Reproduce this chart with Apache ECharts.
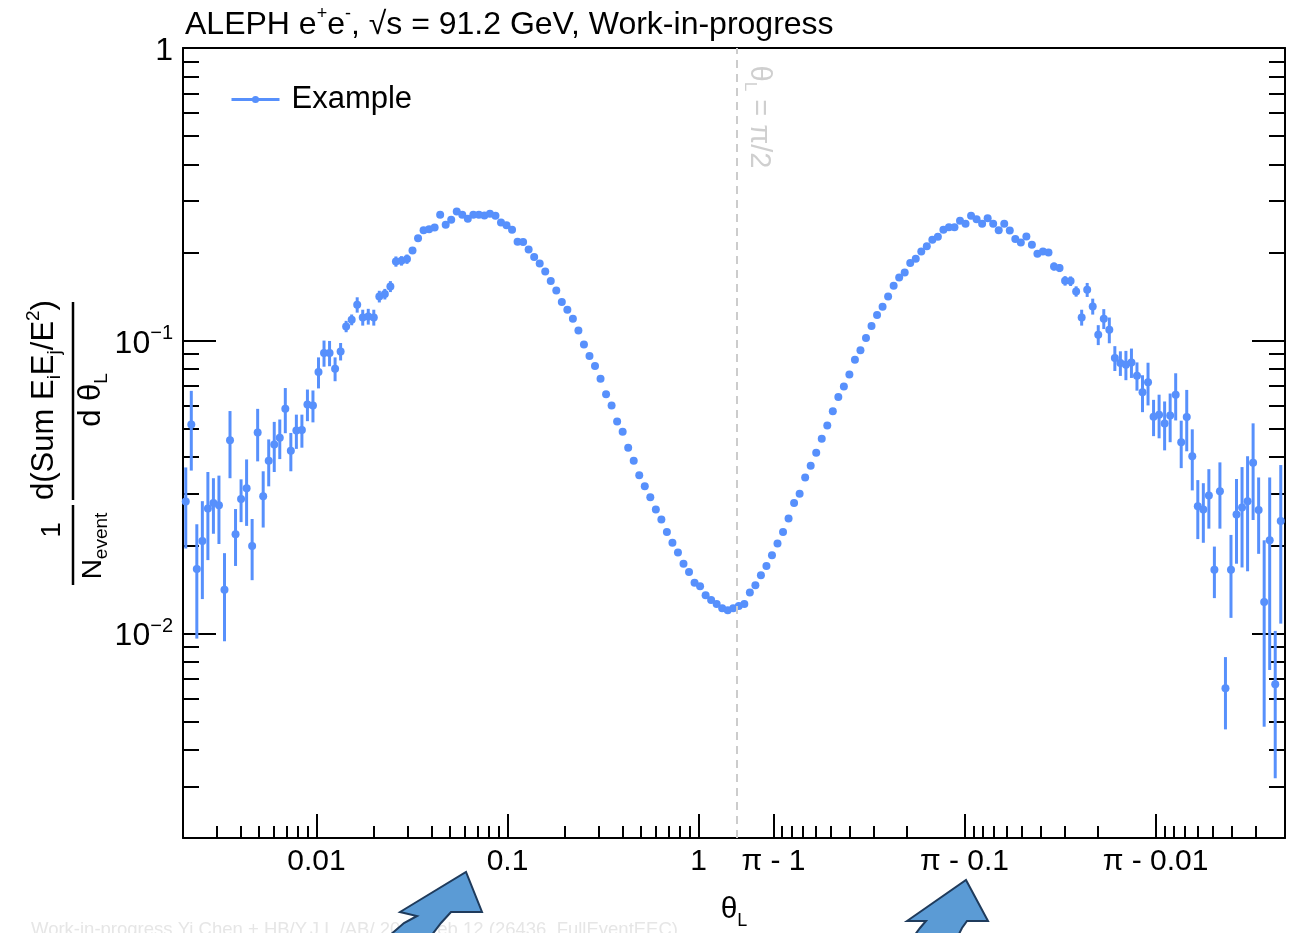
<!DOCTYPE html>
<html>
<head>
<meta charset="utf-8">
<script src="https://cdn.jsdelivr.net/npm/echarts@6/dist/echarts.min.js"></script>
<style>
html,body{margin:0;padding:0;background:#fff;}
#chart{width:1303px;height:933px;}
</style>
</head>
<body>
<div id="chart"></div>
<script>
// ---------------- data ----------------
const BIN_COUNT = 100;          // log bins per half (theta < pi/2 and theta > pi/2)
const THETA_MIN = 0.002;        // lower edge of the binning in theta and in (pi - theta)

// theta_L < pi/2, bins ordered from small theta towards pi/2
const leftValues = [
  0.0282, 0.0517, 0.0166, 0.0207, 0.0267, 0.0279, 0.0274, 0.0141, 0.0457, 0.0218,
  0.0288, 0.0313, 0.0199, 0.0486, 0.0294, 0.0389, 0.0442, 0.0466, 0.0586, 0.0421,
  0.0493, 0.0495, 0.0606, 0.0601, 0.0782, 0.0908, 0.0908, 0.0802, 0.0919, 0.1119,
  0.1179, 0.1327, 0.1201, 0.1210, 0.1201, 0.1416, 0.1443, 0.1532, 0.1865, 0.1875,
  0.1900, 0.2033, 0.2241, 0.2386, 0.2405, 0.2436, 0.2692, 0.2488, 0.2588, 0.2763,
  0.2692, 0.2608, 0.2692, 0.2692, 0.2677, 0.2713, 0.2671, 0.2533, 0.2482, 0.2392,
  0.2177, 0.2175, 0.2049, 0.1931, 0.1836, 0.1724, 0.1599, 0.1485, 0.1355, 0.1276,
  0.1189, 0.1084, 0.0971, 0.0887, 0.0820, 0.0742, 0.0656, 0.0601, 0.0530, 0.0489,
  0.0431, 0.0389, 0.0347, 0.0318, 0.0292, 0.0265, 0.0245, 0.0222, 0.0204, 0.0189,
  0.0173, 0.0162, 0.0149, 0.0145, 0.0135, 0.0130, 0.0126, 0.0122, 0.0120, 0.0122
];
const leftErrors = [
  0.0087, 0.0157, 0.0070, 0.0076, 0.0089, 0.0060, 0.0072, 0.0047, 0.0118, 0.0048,
  0.0048, 0.0080, 0.0047, 0.0099, 0.0064, 0.0071, 0.0086, 0.0072, 0.0103, 0.0063,
  0.0066, 0.0064, 0.0075, 0.0075, 0.0095, 0.0093, 0.0090, 0.0075, 0.0063, 0.0050,
  0.0050, 0.0080, 0.0075, 0.0075, 0.0075, 0.0065, 0.0060, 0.0066, 0.0075, 0.0070,
  0.0070, 0.0040, 0.0040, 0.0030, 0.0030, 0.0030, 0.0030, 0.0030, 0.0030, 0.0025,
  0.0025, 0.0025, 0.0025, 0.0020, 0.0020, 0.0020, 0.0020, 0.0020, 0.0020, 0.0020,
  0.0015, 0.0015, 0.0015, 0.0015, 0.0012, 0.0012, 0.0012, 0.0010, 0.0010, 0.0010,
  0.0008, 0.0008, 0.0008, 0.0006, 0.0006, 0.0006, 0.0005, 0.0005, 0.0004, 0.0004,
  0.0003, 0.0003, 0.0003, 0.0003, 0.0002, 0.0002, 0.0002, 0.0002, 0.0002, 0.0002,
  0.0001, 0.0001, 0.0001, 0.0001, 0.0001, 0.0001, 0.0001, 0.0001, 0.0001, 0.0001
];
// theta_L > pi/2, bins ordered from pi/2 towards pi
const rightValues = [
  0.0124, 0.0126, 0.0138, 0.0146, 0.0158, 0.0170, 0.0185, 0.0203, 0.0222, 0.0247,
  0.0279, 0.0300, 0.0341, 0.0374, 0.0414, 0.0462, 0.0513, 0.0574, 0.0642, 0.0698,
  0.0767, 0.0861, 0.0927, 0.1021, 0.1122, 0.1224, 0.1306, 0.1416, 0.1541, 0.1644,
  0.1710, 0.1841, 0.1905, 0.2017, 0.2104, 0.2212, 0.2264, 0.2392, 0.2443, 0.2443,
  0.2568, 0.2507, 0.2671, 0.2602, 0.2507, 0.2622, 0.2507, 0.2383, 0.2507, 0.2380,
  0.2224, 0.2165, 0.2270, 0.2127, 0.1981, 0.2017, 0.2001, 0.1793, 0.1771, 0.1602,
  0.1598, 0.1474, 0.1201, 0.1493, 0.1310, 0.1048, 0.1189, 0.1090, 0.0873, 0.0839,
  0.0828, 0.0843, 0.0759, 0.0666, 0.0721, 0.0550, 0.0559, 0.0521, 0.0555, 0.0654,
  0.0450, 0.0549, 0.0403, 0.0272, 0.0265, 0.0296, 0.0165, 0.0306, 0.0065, 0.0165,
  0.0255, 0.0269, 0.0283, 0.0383, 0.0264, 0.0128, 0.0208, 0.0067, 0.0242, null
];
const rightErrors = [
  0.0001, 0.0001, 0.0001, 0.0001, 0.0001, 0.0001, 0.0002, 0.0002, 0.0002, 0.0002,
  0.0003, 0.0003, 0.0003, 0.0004, 0.0004, 0.0005, 0.0005, 0.0006, 0.0006, 0.0007,
  0.0008, 0.0009, 0.0010, 0.0011, 0.0012, 0.0013, 0.0014, 0.0015, 0.0016, 0.0017,
  0.0018, 0.0019, 0.0020, 0.0021, 0.0022, 0.0023, 0.0024, 0.0025, 0.0026, 0.0027,
  0.0028, 0.0029, 0.0030, 0.0030, 0.0030, 0.0030, 0.0032, 0.0034, 0.0035, 0.0036,
  0.0040, 0.0040, 0.0042, 0.0044, 0.0046, 0.0048, 0.0050, 0.0057, 0.0055, 0.0060,
  0.0060, 0.0060, 0.0075, 0.0082, 0.0082, 0.0082, 0.0093, 0.0110, 0.0085, 0.0081,
  0.0095, 0.0097, 0.0084, 0.0096, 0.0120, 0.0078, 0.0095, 0.0099, 0.0105, 0.0120,
  0.0083, 0.0130, 0.0095, 0.0062, 0.0061, 0.0068, 0.0033, 0.0078, 0.0018, 0.0052,
  0.0082, 0.0101, 0.0120, 0.0139, 0.0077, 0.0080, 0.0133, 0.0035, 0.0134, null
];

// axis ticks / labels
const xMajorLeft = [0.01, 0.1, 1];          // theta values
const xMajorRight = [1, 0.1, 0.01];         // (pi - theta) values
const xTickLabels = ['0.01', '0.1', '1', 'π - 1', 'π - 0.1', 'π - 0.01'];
const yMajor = [1, 0.1, 0.01];
const yTickLabels = ['1', '10{sup|−1}', '10{sup|−2}'];
const minorMultipliers = [2, 3, 4, 5, 6, 7, 8, 9];
const minorDecades = [0.001, 0.01, 0.1];

// ---------------- scales ----------------
const HALF_PI = Math.PI / 2;
const C = Math.log10(HALF_PI);
const X_MIN = Math.log10(THETA_MIN);
const X_MAX = 3.07;
const Y_MIN = Math.log10(0.002);
const Y_MAX = 0;
const BIN_W = (C - X_MIN) / BIN_COUNT;

// folded log axis: log10(theta) below pi/2, mirrored log10(pi - theta) above
function toU(theta) {
  return theta <= HALF_PI ? Math.log10(theta) : 2 * C - Math.log10(Math.PI - theta);
}

const leftTheta = leftValues.map((_, i) => Math.pow(10, X_MIN + (i + 0.5) * BIN_W));
const rightTheta = rightValues.map((_, k) => Math.PI - Math.pow(10, C - (k + 0.5) * BIN_W));

const points = [];
const errBars = [];
function addPoints(thetas, vals, errs) {
  thetas.forEach((t, i) => {
    const v = vals[i];
    if (v == null) return;
    const u = toU(t);
    points.push([u, Math.log10(v)]);
    const e = errs[i] || 0;
    if (e > 0) errBars.push([u, Math.log10(Math.max(v - e, 1e-4)), Math.log10(v + e)]);
  });
}
addPoints(leftTheta, leftValues, leftErrors);
addPoints(rightTheta, rightValues, rightErrors);

const xMajorU = xMajorLeft.map(t => toU(t)).concat(xMajorRight.map(d => toU(Math.PI - d)));
const xMinorU = [];
minorDecades.forEach(dec => minorMultipliers.forEach(m => {
  const v = m * dec;
  if (v > THETA_MIN * 1.0001 && v < HALF_PI) xMinorU.push(toU(v));
  const u2 = toU(Math.PI - v);
  if (v < HALF_PI && u2 < X_MAX) xMinorU.push(u2);
}));
const yMajorV = yMajor.map(v => Math.log10(v));
const yMinorV = [];
minorDecades.forEach(dec => minorMultipliers.forEach(m => {
  const lv = Math.log10(m * dec);
  if (lv > Y_MIN + 1e-6 && lv < Y_MAX) yMinorV.push(lv);
}));

function labelFor(list, labels, v) {
  for (let i = 0; i < list.length; i++) if (Math.abs(list[i] - v) < 1e-6) return labels[i];
  return '';
}

// ---------------- chart ----------------
const FONT = '"Liberation Sans", Arial, Helvetica, sans-serif';
const BLUE = '#5790fc';
const AXIS_LINE = { show: true, onZero: false, lineStyle: { color: '#000', width: 2 } };
const TICK_STYLE = { color: '#000', width: 2 };

function xAxis(position, ticks, len, showLine, label, extra) {
  return Object.assign({
    type: 'value', position: position, min: X_MIN, max: X_MAX,
    axisLine: showLine ? AXIS_LINE : { show: false, onZero: false },
    axisTick: ticks ? { show: true, inside: true, length: len, customValues: ticks, lineStyle: TICK_STYLE } : { show: false },
    axisLabel: label || { show: false },
    splitLine: { show: false }
  }, extra || {});
}
function yAxis(position, ticks, len, showLine, label) {
  return {
    type: 'value', position: position, min: Y_MIN, max: Y_MAX,
    axisLine: showLine ? AXIS_LINE : { show: false, onZero: false },
    axisTick: { show: true, inside: true, length: len, customValues: ticks, lineStyle: TICK_STYLE },
    axisLabel: label || { show: false },
    splitLine: { show: false }
  };
}

const chart = echarts.init(document.getElementById('chart'), null, { renderer: 'canvas' });

const option = {
  animation: false,
  backgroundColor: '#ffffff',
  title: {
    text: 'ALEPH e{sup|+}e{sup|-}, √s = 91.2 GeV, Work-in-progress',
    left: 180, top: 0,
    textStyle: {
      fontFamily: FONT, fontSize: 32, fontWeight: 'normal', color: '#000', lineHeight: 40,
      rich: { sup: { fontFamily: FONT, fontSize: 18, lineHeight: 18, verticalAlign: 'top', color: '#000' } }
    }
  },
  grid: { left: 183, right: 18, top: 48, bottom: 95, containLabel: false, outerBoundsMode: 'none' },
  legend: {
    data: ['Example'], left: 230, top: 84, padding: 0,
    itemWidth: 48, itemHeight: 9,
    textStyle: { fontFamily: FONT, fontSize: 31, color: '#000', padding: [0, 0, 0, 7] },
    lineStyle: { width: 3, opacity: 1, color: BLUE },
    itemStyle: { color: BLUE, opacity: 1 }
  },
  xAxis: [
    xAxis('bottom', xMajorU, 24, true, {
      show: true, customValues: xMajorU, margin: 9,
      fontFamily: FONT, fontSize: 30, color: '#000',
      formatter: v => labelFor(xMajorU, xTickLabels, v)
    }, {
      name: '{t|θ}{s|L}', nameLocation: 'middle', nameGap: 52,
      nameTextStyle: {
        rich: {
          t: { fontFamily: FONT, fontSize: 30, lineHeight: 40, color: '#000' },
          s: { fontFamily: FONT, fontSize: 18, lineHeight: 18, verticalAlign: 'bottom', color: '#000' }
        }
      }
    }),
    xAxis('bottom', xMinorU, 12, false),
    xAxis('top', null, 0, true)
  ],
  yAxis: [
    yAxis('left', yMajorV, 33, true, {
      show: true, customValues: yMajorV, margin: 10,
      fontFamily: FONT, fontSize: 32, color: '#000', lineHeight: 40, padding: [6, 0, 0, 0],
      formatter: v => labelFor(yMajorV, yTickLabels, v),
      rich: { sup: { fontFamily: FONT, fontSize: 20, lineHeight: 20, verticalAlign: 'top', color: '#000' } }
    }),
    yAxis('left', yMinorV, 16, false),
    yAxis('right', yMajorV, 33, true),
    yAxis('right', yMinorV, 16, false)
  ],
  series: [
    {
      type: 'custom', name: 'errors', xAxisIndex: 0, yAxisIndex: 0,
      data: errBars, clip: true, silent: true, z: 3,
      encode: { x: 0, y: [1, 2] },
      renderItem: function (params, api) {
        const p1 = api.coord([api.value(0), api.value(1)]);
        const p2 = api.coord([api.value(0), api.value(2)]);
        return { type: 'line', shape: { x1: p1[0], y1: p1[1], x2: p2[0], y2: p2[1] },
                 style: { stroke: BLUE, lineWidth: 3 } };
      }
    },
    {
      type: 'line', name: 'Example', xAxisIndex: 0, yAxisIndex: 0,
      data: points, symbol: 'circle', symbolSize: 8, showAllSymbol: true,
      itemStyle: { color: BLUE, borderWidth: 0 },
      lineStyle: { width: 0, opacity: 0 },
      silent: true, z: 4,
      markLine: {
        silent: true, symbol: ['none', 'none'], label: { show: false },
        lineStyle: { color: '#cccccc', type: [8, 6], width: 2 },
        data: [{ xAxis: C }]
      }
    }
  ],
  graphic: [
    // y-axis title: 1/N_event  d(Sum E_iE_j/E^2)/d theta_L
    { type: 'text', x: 44, y: 400, rotation: Math.PI / 2,
      style: { text: '{m|d(Sum E}{s|i}{m|E}{s|j}{m|/E}{p|2}{m|)}', align: 'center', verticalAlign: 'middle', fill: '#000',
        rich: {
          m: { fontFamily: FONT, fontSize: 31, lineHeight: 40, fill: '#000' },
          s: { fontFamily: FONT, fontSize: 19, lineHeight: 19, verticalAlign: 'bottom', fill: '#000' },
          p: { fontFamily: FONT, fontSize: 19, lineHeight: 19, verticalAlign: 'top', fill: '#000' }
        } } },
    { type: 'line', shape: { x1: 73, y1: 302, x2: 73, y2: 500 }, style: { stroke: '#000', lineWidth: 2.5 } },
    { type: 'text', x: 91, y: 400, rotation: Math.PI / 2,
      style: { text: '{m|d θ}{s|L}', align: 'center', verticalAlign: 'middle', fill: '#000',
        rich: {
          m: { fontFamily: FONT, fontSize: 31, lineHeight: 40, fill: '#000' },
          s: { fontFamily: FONT, fontSize: 19, lineHeight: 19, verticalAlign: 'bottom', fill: '#000' }
        } } },
    { type: 'text', x: 52, y: 530, rotation: Math.PI / 2,
      style: { text: '{m|1}', align: 'center', verticalAlign: 'middle', fill: '#000',
        rich: { m: { fontFamily: FONT, fontSize: 28, lineHeight: 34, fill: '#000' } } } },
    { type: 'line', shape: { x1: 73, y1: 505, x2: 73, y2: 585 }, style: { stroke: '#000', lineWidth: 2.5 } },
    { type: 'text', x: 93, y: 546, rotation: Math.PI / 2,
      style: { text: '{m|N}{s|event}', align: 'center', verticalAlign: 'middle', fill: '#000',
        rich: {
          m: { fontFamily: FONT, fontSize: 28, lineHeight: 36, fill: '#000' },
          s: { fontFamily: FONT, fontSize: 19, lineHeight: 19, verticalAlign: 'bottom', fill: '#000' }
        } } },
    // label of the pi/2 line
    { type: 'text', x: 759, y: 117, rotation: -Math.PI / 2,
      style: { text: '{m|θ}{s|L}{m| = π/2}', align: 'center', verticalAlign: 'middle',
        rich: {
          m: { fontFamily: FONT, fontSize: 29, lineHeight: 36, fill: '#cfcfcf' },
          s: { fontFamily: FONT, fontSize: 17, lineHeight: 17, verticalAlign: 'bottom', fill: '#cfcfcf' }
        } } },
    // faint footer
    { type: 'text', x: 31, y: 919,
      style: { text: '{f|Work-in-progress Yi Chen + HB/Y.J.L /AB/ 2025 Feb 12 (26436_FullEventEEC)}',
        verticalAlign: 'top', align: 'left',
        rich: { f: { fontFamily: FONT, fontSize: 18.5, lineHeight: 22, fill: '#e6e6e6' } } } },
    // slide arrows
    { type: 'polygon', z: 100,
      shape: { points: [[400, 912], [466, 872], [482, 912], [451, 912], [441, 923], [431, 936], [389, 936], [404, 923], [417, 916]] },
      style: { fill: '#5b9bd5', stroke: '#1f3b5c', lineWidth: 2 } },
    { type: 'polygon', z: 100,
      shape: { points: [[907, 921], [966, 880], [988, 921], [967, 921], [962, 928], [958, 936], [914, 936], [920, 928], [926, 921]] },
      style: { fill: '#5b9bd5', stroke: '#1f3b5c', lineWidth: 2 } }
  ]
};
chart.setOption(option);
</script>
</body>
</html>
